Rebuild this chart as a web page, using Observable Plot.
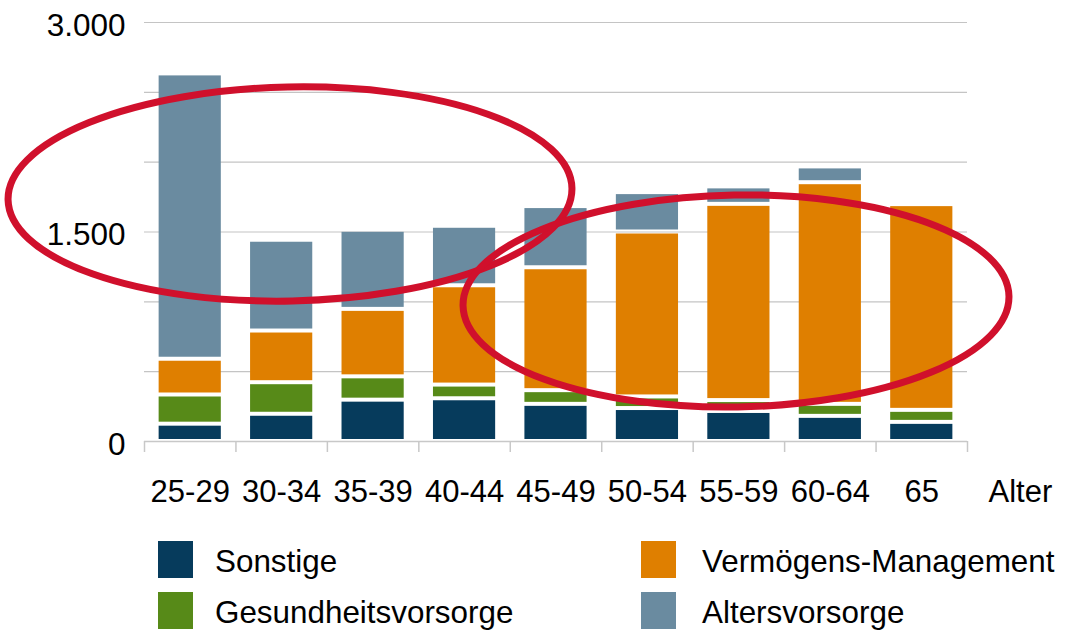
<!DOCTYPE html>
<html>
<head>
<meta charset="utf-8">
<script src="https://cdn.jsdelivr.net/npm/d3@7"></script>
<script src="https://cdn.jsdelivr.net/npm/@observablehq/plot@0.6"></script>
<style>
  html, body { margin: 0; padding: 0; background: #fff; }
  body { width: 1065px; height: 630px; overflow: hidden; font-family: "Liberation Sans", Arial, sans-serif; }
  #chart { position: relative; width: 1065px; }
  #legend { position: relative; width: 1065px; height: 110px; }
  .sw { position: absolute; width: 35px; height: 37px; }
  .lb { position: absolute; font-size: 31.4px; line-height: 37px; color: #000; white-space: nowrap; }
</style>
</head>
<body>
<div id="chart"></div>
<div id="legend"></div>
<script>
// ---- data ----
const categories = ["25-29", "30-34", "35-39", "40-44", "45-49", "50-54", "55-59", "60-64", "65"];
const series = ["Sonstige", "Gesundheitsvorsorge", "Vermögens-Management", "Altersvorsorge"];
const sonstige     = [124, 195, 296, 306, 266, 236, 215, 180, 137];
const gesundheit   = [209, 226, 167,  98,  98,  83,  78,  86,  86];
const vermoegen    = [256, 370, 483, 711, 880, 1181, 1405, 1587, 1473];
const alters       = [2043, 650, 566, 426, 438, 282, 125, 113,   0];
const yTickValues  = [0, 1500, 3000];
const gridValues   = [500, 1000, 1500, 2000, 2500, 3000];
const axisTitle    = "Alter";

// ---- styles ----
const colors = ["#063b5c", "#578a18", "#df7f00", "#6a8ba0"];
const W = 1065, H = 520, ML = 144, MR = 98, MT = 22, MB = 79;

const valuesBySeries = [sonstige, gesundheit, vermoegen, alters];
const rows = [];
categories.forEach((c, i) => {
  series.forEach((s, j) => {
    const v = valuesBySeries[j][i];
    if (v > 0) rows.push({age: c, series: s, value: v});
  });
});

const de = d3.formatLocale({decimal: ",", thousands: ".", grouping: [3], currency: ["", " €"]});
const fmt = de.format(",");

const step = (W - ML - MR) / categories.length;

const svg = Plot.plot({
  width: W, height: H,
  marginLeft: ML, marginRight: MR, marginTop: MT, marginBottom: MB,
  style: {fontFamily: '"Liberation Sans", Arial, sans-serif', fontSize: "31px", color: "#000", background: "#fff"},
  x: {domain: categories, paddingInner: 0.32, paddingOuter: 0.16, round: false, label: null},
  y: {domain: [0, 3000], label: null},
  color: {domain: series, range: colors},
  marks: [
    Plot.gridY(gridValues, {stroke: "#c4c4c4", strokeOpacity: 1, strokeWidth: 1.2}),
    Plot.ruleY([0], {stroke: "#c8c8c8", strokeWidth: 1.5}),
    Plot.ruleX(categories, {x: d => d, y1: 0, y2: 0, insetBottom: -11, dx: -step / 2, stroke: "#c8c8c8", strokeWidth: 1.5}),
    Plot.ruleX(categories.slice(-1), {x: d => d, y1: 0, y2: 0, insetBottom: -11, dx: step / 2, stroke: "#c8c8c8", strokeWidth: 1.5}),
    Plot.barY(rows, Plot.stackY({
      x: "age", y: "value", fill: "series", order: series,
      insetTop: 2, insetBottom: 2
    })),
    Plot.axisY({ticks: yTickValues, tickSize: 0, tickPadding: 19, tickFormat: fmt, dy: 3, fontSize: 31.5, label: null}),
    Plot.axisX({tickSize: 0, tickPadding: 38, fontSize: 31, label: null}),
    Plot.text([axisTitle], {text: d => d, frameAnchor: "bottom-right", textAnchor: "start", lineAnchor: "top", dx: 21, dy: 38, fontSize: 31})
  ]
});
document.getElementById("chart").appendChild(svg);

// ---- hand-drawn red annotation ellipses (overlay) ----
const annotations = [
  {cx: 290, cy: 194, rx: 282, ry: 107, angle: -1.2},
  {cx: 736, cy: 301, rx: 273, ry: 106, angle: -1.0}
];
d3.select(svg).selectAll("ellipse.annot")
  .data(annotations)
  .join("ellipse")
  .attr("class", "annot")
  .attr("cx", d => d.cx).attr("cy", d => d.cy)
  .attr("rx", d => d.rx).attr("ry", d => d.ry)
  .attr("transform", d => `rotate(${d.angle} ${d.cx} ${d.cy})`)
  .attr("fill", "none")
  .attr("stroke", "#d0102c")
  .attr("stroke-width", 7);

// ---- legend ----
const legend = d3.select("#legend");
const legendPos = [
  {sx: 158, sy: 21, tx: 215},
  {sx: 158, sy: 72, tx: 215},
  {sx: 641, sy: 21, tx: 702},
  {sx: 641, sy: 72, tx: 702}
];
series.forEach((s, i) => {
  const p = legendPos[i];
  legend.append("div").attr("class", "sw")
    .style("left", p.sx + "px").style("top", p.sy + "px").style("background", colors[i]);
  legend.append("div").attr("class", "lb")
    .style("left", p.tx + "px").style("top", (p.sy + 2) + "px").text(s);
});
</script>
</body>
</html>
